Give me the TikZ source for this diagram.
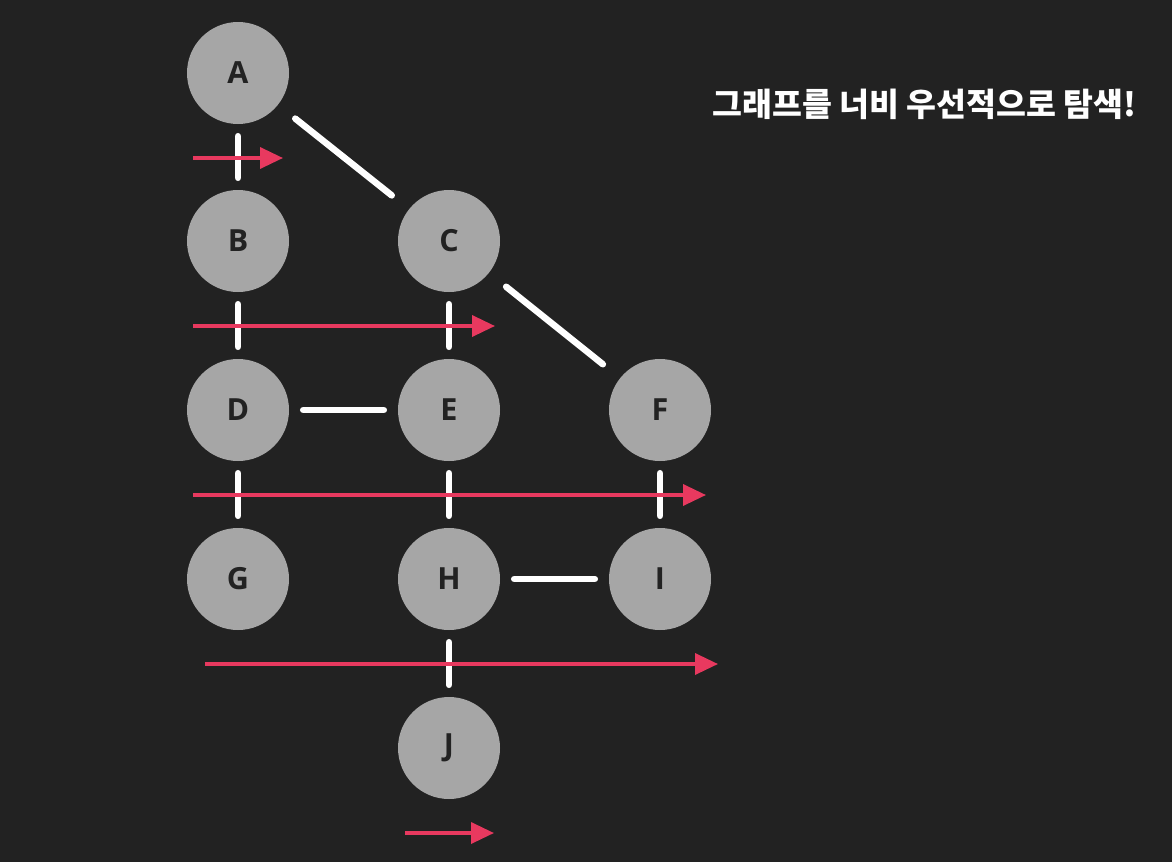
\documentclass[tikz,border=0pt]{standalone}
\usepackage{fontspec}
\setmainfont{Open Sans}
\newfontfamily\kr{Noto Sans CJK KR}
\usetikzlibrary{arrows.meta}
\definecolor{bg}{HTML}{222222}
\definecolor{nodegray}{HTML}{A6A6A6}
\definecolor{txt}{HTML}{222222}
\definecolor{redarrow}{HTML}{E8395F}
\tikzset{
  vtx/.style={circle, fill=nodegray, minimum size=102pt, inner sep=0pt, text=txt, font=\bfseries\fontsize{30.5}{30.5}\selectfont},
  edge/.style={white, line width=6.5pt, line cap=round, shorten >=#1, shorten <=#1},
  edge/.default=0pt,
  sweep/.style={redarrow, line width=3.5pt, -{Triangle[length=23pt,width=21pt]}}
}
\begin{document}
\begin{tikzpicture}[x=1pt,y=-1pt]
\fill[bg] (0,0) rectangle (1172,862);
\useasboundingbox (0,0) rectangle (1172,862);
\node[vtx] (A) at (238,73) {A};
\node[vtx] (B) at (238,241) {B};
\node[vtx] (C) at (449,241) {C};
\node[vtx] (D) at (238,410) {D};
\node[vtx] (E) at (449,410) {E};
\node[vtx] (F) at (660,410) {F};
\node[vtx] (G) at (238,579) {G};
\node[vtx] (H) at (449,579) {H};
\node[vtx] (I) at (660,579) {I};
\node[vtx] (J) at (449,748) {J};
% edges
\draw[edge=12pt] (A) -- (B);
\draw[edge=12pt] (B) -- (D);
\draw[edge=12pt] (C) -- (E);
\draw[edge=12pt] (D) -- (G);
\draw[edge=12pt] (E) -- (H);
\draw[edge=12pt] (F) -- (I);
\draw[edge=12pt] (H) -- (J);
\draw[edge=14pt] (D) -- (E);
\draw[edge=14pt] (H) -- (I);
\draw[edge=22pt] (A) -- (C);
\draw[edge=22pt] (C) -- (F);
% sweep arrows
\coordinate (s1) at (193,158); \coordinate (e1) at (283,158);
\coordinate (s2) at (193,326); \coordinate (e2) at (495,326);
\coordinate (s3) at (193,495); \coordinate (e3) at (706,495);
\coordinate (s4) at (205,664); \coordinate (e4) at (718,664);
\coordinate (s5) at (405,833); \coordinate (e5) at (494,833);
\draw[sweep] (s1) -- (e1);
\draw[sweep] (s2) -- (e2);
\draw[sweep] (s3) -- (e3);
\draw[sweep] (s4) -- (e4);
\draw[sweep] (s5) -- (e5);
\node[text=white, font=\kr\bfseries\fontsize{32.5}{32.5}\selectfont, anchor=east] (title) at (1140,104) {그래프를 너비 우선적으로 탐색!};
\end{tikzpicture}
\end{document}
